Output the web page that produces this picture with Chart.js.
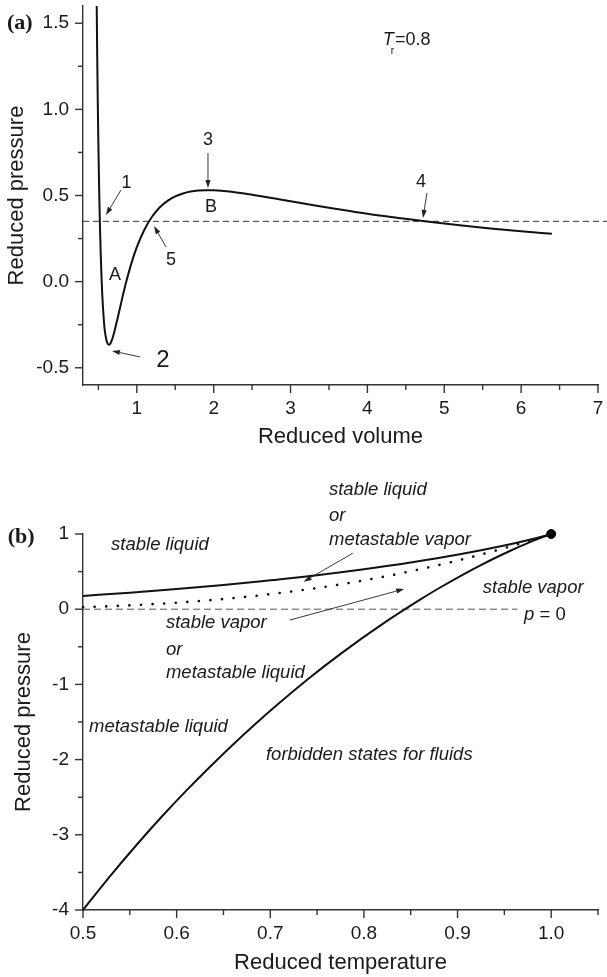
<!DOCTYPE html>
<html><head><meta charset="utf-8">
<script src="https://cdn.jsdelivr.net/npm/chart.js@4.4.1/dist/chart.umd.min.js"></script>
<style>
html,body{margin:0;padding:0;background:#fff;overflow:hidden}
.wrap{position:absolute;left:0;width:607px}
</style>
</head><body>
<div class="wrap" style="top:0;height:460px"><canvas id="c1"></canvas></div>
<div class="wrap" style="top:460px;height:517px"><canvas id="c2"></canvas></div>
<script>
// ---------- Panel (a): isotherm Tr = 0.8 ----------
const volume = [0.478,0.48,0.485,0.49,0.495,0.5,0.51,0.52,0.53,0.54,0.55,0.56,0.58,0.6,0.62,0.64,0.66,0.68,0.7,0.75,0.8,0.85,0.9,0.95,1.0,1.1,1.2,1.3,1.4,1.5,1.6,1.7,1.8,1.9,2.0,2.2,2.4,2.6,2.8,3.0,3.3,3.6,4.0,4.4,4.8,5.2,5.6,6.0,6.4];
const pressureIso = [1.617,1.53,1.31,1.12,0.95,0.80,0.54,0.33,0.17,0.035,-0.07,-0.15,-0.27,-0.33,-0.36,-0.367,-0.356,-0.334,-0.304,-0.213,-0.116,-0.023,0.061,0.135,0.20,0.303,0.378,0.432,0.469,0.495,0.512,0.523,0.529,0.531,0.530,0.523,0.511,0.497,0.482,0.467,0.444,0.422,0.394,0.370,0.347,0.327,0.309,0.293,0.278];
const tieVolume = [0.3, 7.12];
const tiePressure = [0.35, 0.35];
const volTicksMajor = [1,2,3,4,5,6,7];
const volTicksMinor = [0.5,1.5,2.5,3.5,4.5,5.5,6.5];
const presATicksMajor = [-0.5,0,0.5,1.0,1.5];
const presATickLabels = ['-0.5','0.0','0.5','1.0','1.5'];
const presATicksMinor = [-0.25,0.25,0.75,1.25];

// ---------- Panel (b): phase diagram ----------
const tempVapSpin = [0.5,0.55,0.6,0.65,0.7,0.75,0.8,0.85,0.901,0.95,0.978,0.9936,1.0];
const presVapSpin = [0.177,0.219,0.267,0.321,0.385,0.452,0.531,0.621,0.726,0.846,0.926,0.977,1.0];
const tempSat = [0.5,0.55,0.6,0.65,0.7,0.75,0.8,0.85,0.9,0.95,0.975,1.0];
const presSat = [0.027,0.051,0.087,0.136,0.200,0.282,0.383,0.505,0.647,0.812,0.904,1.0];
const tempLiqSpin = [0.5,0.5294,0.5576,0.5845,0.6103,0.6349,0.6805,0.7407,0.7758,0.8216,0.86,0.8819,0.9259,0.957,0.978,0.9911,1.0];
const presLiqSpin = [-4.0,-3.543,-3.129,-2.754,-2.413,-2.104,-1.566,-0.926,-0.587,-0.182,0.127,0.292,0.593,0.781,0.896,0.960,1.0];
const zeroTemp = [0.5, 0.964];
const zeroPres = [0, 0];
const criticalTemp = [1.0];
const criticalPres = [1.0];
const tempTicksMajor = [0.5,0.6,0.7,0.8,0.9,1.0];
const tempTickLabels = ['0.5','0.6','0.7','0.8','0.9','1.0'];
const tempTicksMinor = [0.55,0.65,0.75,0.85,0.95,1.05];
const presBTicksMajor = [-4,-3,-2,-1,0,1];
const presBTicksMinor = [-3.5,-2.5,-1.5,-0.5,0.5];

const FAM = '"Liberation Sans", Arial, sans-serif';
const SERIF = '"Liberation Serif", "Times New Roman", serif';
const INK = '#1a1a1a';
const AX = '#333';
const pts = (xs, ys) => xs.map((x, i) => ({x, y: ys[i]}));

function drawArrow(ctx, x1, y1, x2, y2) {
  ctx.save();
  ctx.strokeStyle = '#222'; ctx.fillStyle = '#222'; ctx.lineWidth = 0.9;
  const a = Math.atan2(y2 - y1, x2 - x1), L = 8, W = 2.6;
  const bx = x2 - L * Math.cos(a), by = y2 - L * Math.sin(a);
  ctx.beginPath(); ctx.moveTo(x1, y1); ctx.lineTo(bx, by); ctx.stroke();
  ctx.beginPath();
  ctx.moveTo(x2, y2);
  ctx.lineTo(bx + W * Math.sin(a), by - W * Math.cos(a));
  ctx.lineTo(bx - W * Math.sin(a), by + W * Math.cos(a));
  ctx.closePath(); ctx.fill();
  ctx.restore();
}

const decorPlugin = {
  id: 'decor',
  afterDraw(chart, args, o) {
    const ctx = chart.ctx, xs = chart.scales.x, ys = chart.scales.y, ar = chart.chartArea;
    ctx.save();
    ctx.strokeStyle = AX; ctx.lineWidth = 1.4;
    const tickSets = [[o.xMajor, 8, 'x'], [o.xMinor, 5, 'x'], [o.yMajor, 8, 'y'], [o.yMinor, 5, 'y']];
    for (const [vals, len, ax] of tickSets) {
      for (const v of vals) {
        ctx.beginPath();
        if (ax === 'x') { const p = xs.getPixelForValue(v); ctx.moveTo(p, ar.bottom); ctx.lineTo(p, ar.bottom + len); }
        else { const p = ys.getPixelForValue(v); ctx.moveTo(ar.left - len, p); ctx.lineTo(ar.left, p); }
        ctx.stroke();
      }
    }
    ctx.textBaseline = 'middle';
    ctx.fillStyle = INK;
    for (const t of o.texts) {
      let x = xs.getPixelForValue(t.x), y = ys.getPixelForValue(t.y);
      if (t.parts) {
        for (const p of t.parts) {
          ctx.font = p.font; ctx.textAlign = 'left';
          ctx.fillText(p.t, x + (p.dx || 0), y + (p.dy || 0));
          x += ctx.measureText(p.t).width + (p.dx || 0) + (p.adv || 0);
        }
      } else {
        ctx.font = t.font; ctx.textAlign = t.align || 'center';
        ctx.fillText(t.t, x, y);
      }
    }
    for (const a of o.arrows) {
      drawArrow(ctx, xs.getPixelForValue(a[0]), ys.getPixelForValue(a[1]), xs.getPixelForValue(a[2]), ys.getPixelForValue(a[3]));
    }
    ctx.restore();
  }
};

function makeScales(cfg) {
  return {
    x: {
      type: 'linear', min: cfg.xMin, max: cfg.xMax,
      grid: {display: false, drawTicks: false},
      border: {display: true, color: AX, width: 1.4},
      afterBuildTicks: s => { s.ticks = cfg.xMajor.map(v => ({value: v})); },
      afterFit: s => { s.height = cfg.xAxisH; s.paddingLeft = 0; s.paddingRight = 0; s.paddingTop = 0; s.paddingBottom = 0; },
      ticks: {padding: 12, color: INK, font: {family: FAM, size: 19}, maxRotation: 0, autoSkip: false,
        callback: (v, i) => cfg.xLabels[i]},
      title: {display: true, text: cfg.xTitle, color: INK, font: {family: FAM, size: 22}, padding: {top: 0, bottom: cfg.xTitlePad}}
    },
    y: {
      type: 'linear', min: cfg.yMin, max: cfg.yMax,
      grid: {display: false, drawTicks: false},
      border: {display: true, color: AX, width: 1.4},
      afterBuildTicks: s => { s.ticks = cfg.yMajor.map(v => ({value: v})); },
      afterFit: s => { s.width = 83; s.paddingLeft = 0; s.paddingRight = 0; s.paddingTop = 0; s.paddingBottom = 0; },
      ticks: {padding: 14, color: INK, font: {family: FAM, size: 19}, autoSkip: false,
        callback: (v, i) => cfg.yLabels[i]},
      title: {display: true, text: 'Reduced pressure', color: INK, font: {family: FAM, size: 22}, padding: {top: cfg.yTitlePad, bottom: 0}}
    }
  };
}

const IT = 'italic 18.5px ' + FAM;
const LBL = '18px ' + FAM;

new Chart(document.getElementById('c1'), {
  type: 'scatter',
  data: {datasets: [
    {data: pts(volume, pressureIso), showLine: true, borderColor: '#111', borderWidth: 2, pointRadius: 0, cubicInterpolationMode: 'monotone'},
    {data: pts(tieVolume, tiePressure), showLine: true, borderColor: '#333', borderWidth: 1, borderDash: [6, 4], pointRadius: 0, clip: false}
  ]},
  options: {
    responsive: true, maintainAspectRatio: false, animation: false,
    layout: {padding: {left: 0, right: 9, top: 6, bottom: 0}},
    plugins: {legend: {display: false}, tooltip: {enabled: false},
      decor: {
        xMajor: volTicksMajor, xMinor: volTicksMinor, yMajor: presATicksMajor, yMinor: presATicksMinor,
        texts: [
          {t: '(a)', x: -0.69, y: 1.50, font: 'bold 22px ' + SERIF, align: 'left'},
          {x: 4.20, y: 1.403, parts: [
            {t: 'T', font: 'italic 18px ' + FAM},
            {t: 'r', font: '10px ' + FAM, dx: -3, dy: 11, adv: 1},
            {t: '=0.8', font: '18px ' + FAM}
          ]},
          {t: '1', x: 0.866, y: 0.573, font: LBL},
          {t: '3', x: 1.926, y: 0.822, font: LBL},
          {t: 'B', x: 1.965, y: 0.433, font: LBL},
          {t: '4', x: 4.697, y: 0.579, font: LBL},
          {t: 'A', x: 0.716, y: 0.039, font: LBL},
          {t: '5', x: 1.445, y: 0.126, font: LBL},
          {t: '2', x: 1.34, y: -0.455, font: '24px ' + FAM}
        ],
        arrows: [
          [0.794, 0.532, 0.599, 0.387],
          [1.926, 0.747, 1.926, 0.544],
          [4.775, 0.515, 4.723, 0.370],
          [1.38, 0.201, 1.224, 0.323],
          [1.042, -0.437, 0.677, -0.402]
        ]
      }
    },
    scales: makeScales({xMin: 0.3, xMax: 7, yMin: -0.6, yMax: 1.6, xMajor: volTicksMajor, xLabels: volTicksMajor.map(String),
      yMajor: presATicksMajor, yLabels: presATickLabels, xTitle: 'Reduced volume', xAxisH: 75, xTitlePad: 10, yTitlePad: 4})
  },
  plugins: [decorPlugin]
});

new Chart(document.getElementById('c2'), {
  type: 'scatter',
  data: {datasets: [
    {data: pts(tempVapSpin, presVapSpin), showLine: true, borderColor: '#111', borderWidth: 2, pointRadius: 0, cubicInterpolationMode: 'monotone', clip: false},
    {data: pts(tempSat, presSat), showLine: true, borderColor: '#111', borderWidth: 2.6, borderDash: [0.1, 11.5], borderCapStyle: 'round', pointRadius: 0, cubicInterpolationMode: 'monotone', clip: false},
    {data: pts(tempLiqSpin, presLiqSpin), showLine: true, borderColor: '#111', borderWidth: 2, pointRadius: 0, cubicInterpolationMode: 'monotone', clip: false},
    {data: pts(zeroTemp, zeroPres), showLine: true, borderColor: '#555', borderWidth: 1, borderDash: [7, 4], pointRadius: 0},
    {data: pts(criticalTemp, criticalPres), showLine: false, pointRadius: 4.5, pointBackgroundColor: '#000', pointBorderColor: '#000', clip: false}
  ]},
  options: {
    responsive: true, maintainAspectRatio: false, animation: false,
    layout: {padding: {left: 0, right: 9, top: 74, bottom: 0}},
    plugins: {legend: {display: false}, tooltip: {enabled: false},
      decor: {
        xMajor: tempTicksMajor, xMinor: tempTicksMinor, yMajor: presBTicksMajor, yMinor: presBTicksMinor,
        texts: [
          {t: '(b)', x: 0.4196, y: 0.96, font: 'bold 22px ' + SERIF, align: 'left'},
          {t: 'stable liquid', x: 0.530, y: 0.854, font: IT, align: 'left'},
          {t: 'stable liquid', x: 0.7627, y: 1.585, font: IT, align: 'left'},
          {t: 'or', x: 0.7627, y: 1.239, font: IT, align: 'left'},
          {t: 'metastable vapor', x: 0.7627, y: 0.920, font: IT, align: 'left'},
          {t: 'stable vapor', x: 0.927, y: 0.282, font: IT, align: 'left'},
          {x: 0.971, y: -0.077, parts: [
            {t: 'p', font: 'italic 18.5px ' + FAM},
            {t: ' = 0', font: '18.5px ' + FAM}
          ]},
          {t: 'stable vapor', x: 0.5886, y: -0.184, font: IT, align: 'left'},
          {t: 'or', x: 0.5886, y: -0.543, font: IT, align: 'left'},
          {t: 'metastable liquid', x: 0.5886, y: -0.848, font: IT, align: 'left'},
          {t: 'metastable liquid', x: 0.5064, y: -1.566, font: IT, align: 'left'},
          {t: 'forbidden states for fluids', x: 0.6954, y: -1.939, font: IT, align: 'left'}
        ],
        arrows: [
          [0.788, 0.743, 0.7356, 0.366],
          [0.721, -0.144, 0.843, 0.269]
        ]
      }
    },
    scales: makeScales({xMin: 0.5, xMax: 1.05, yMin: -4, yMax: 1, xMajor: tempTicksMajor, xLabels: tempTickLabels,
      yMajor: presBTicksMajor, yLabels: presBTicksMajor.map(String), xTitle: 'Reduced temperature', xAxisH: 67, xTitlePad: 1, yTitlePad: 11})
  },
  plugins: [decorPlugin]
});
</script>
</body></html>
